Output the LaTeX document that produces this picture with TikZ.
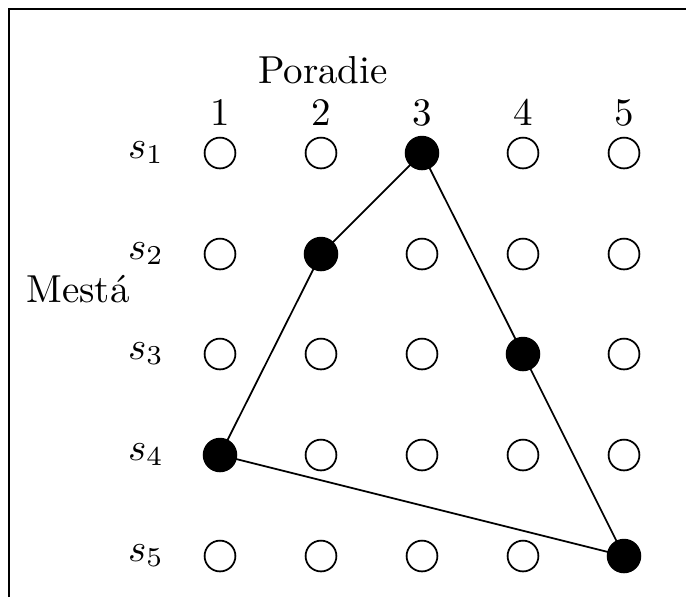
\documentclass[tikz,border=0pt]{standalone}
\begin{document}
\begin{tikzpicture}[x=0.2564pt,y=-0.2564pt,
  open/.style={circle,draw,line width=0.45pt,minimum size=7.9pt,inner sep=0pt},
  full/.style={circle,fill=black,draw,line width=0.45pt,minimum size=8.4pt,inner sep=0pt},
  lbl/.style={inner sep=0pt,anchor=base},
  edge/.style={line width=0.45pt}]
\useasboundingbox (0,0) rectangle (686,597);
\draw[line width=0.55pt] (9,597) -- (9,9) -- (686,9);
% grid of circles
\foreach \i/\y in {1/153,2/254,3/354,4/455,5/556}{
  \foreach \j/\x in {1/220,2/321,3/422,4/523,5/624}{
    \coordinate (p\i\j) at (\x,\y);
  }
}
% connectors (drawn first, under the filled dots)
\draw[edge] (p13) -- (p22) -- (p41) -- (p55) -- (p34) -- (p13);
\foreach \i/\y in {1/153,2/254,3/354,4/455,5/556}{
  \foreach \j/\x in {1/220,2/321,3/422,4/523,5/624}{
    \pgfmathtruncatemacro{\sel}{(\i==1 && \j==3) || (\i==2 && \j==2) || (\i==3 && \j==4) || (\i==4 && \j==1) || (\i==5 && \j==5)}
    \ifnum\sel=1
      \node[full] (c\i\j) at (p\i\j) {};
    \else
      \node[open] (c\i\j) at (p\i\j) {};
    \fi
  }
}
% row labels
\foreach \i/\y in {1/153,2/254,3/354,4/455,5/556}{
  \node[lbl] (s\i) at (146,\y+5) {$s_{\i}$};
}
% column labels
\foreach \j/\x in {1/220,2/321,3/422,4/523,5/624}{
  \node[lbl] (n\j) at (\x,125) {\j};
}
\node[lbl] (poradie) at (323,83) {Poradie};
\node[lbl] (mesta) at (78,302) {Mestá};
\end{tikzpicture}
\end{document}
